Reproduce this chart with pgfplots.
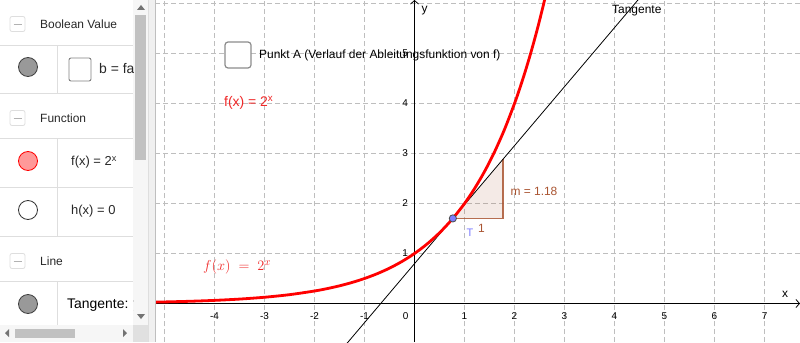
\documentclass[border=0pt]{standalone}
\usepackage{fontspec}
\setmainfont{Liberation Sans}
\usepackage{pgfplots}
\pgfplotsset{compat=1.18}
\usetikzlibrary{arrows.meta}
\definecolor{ggred}{RGB}{255,0,0}
\definecolor{ggtext}{RGB}{240,40,40}
\definecolor{ggbrown}{RGB}{170,85,50}
\definecolor{gggrid}{RGB}{190,190,190}
\definecolor{ggblue}{RGB}{125,125,255}
\definecolor{pline}{RGB}{222,222,222}
\definecolor{thumb}{RGB}{193,193,193}
\definecolor{track}{RGB}{246,246,246}
\definecolor{ptext}{RGB}{40,40,40}

\pgfplotstableread{
x y
-5.19 0.0274
-5.0 0.03125
-4.5 0.0442
-4.0 0.0625
-3.5 0.0884
-3.0 0.125
-2.5 0.1768
-2.0 0.25
-1.75 0.2973
-1.5 0.3536
-1.25 0.4204
-1.0 0.5
-0.75 0.5946
-0.5 0.7071
-0.25 0.8409
0.0 1.0
0.25 1.1892
0.5 1.4142
0.75 1.6818
1.0 2.0
1.2 2.2974
1.4 2.6390
1.6 3.0314
1.8 3.4822
2.0 4.0
2.1 4.2871
2.2 4.5948
2.3 4.9246
2.4 5.2780
2.5 5.6569
2.6 6.0629
2.65 6.2757
}\fdata

\begin{document}
\begin{tikzpicture}[x=1bp,y=1bp]
\useasboundingbox (0,0) rectangle (800,342);
\clip (0,0) rectangle (800,342);
\fill[white] (0,0) rectangle (800,342);

\begin{axis}[at={(155bp,0bp)}, anchor=south west, width=645bp, height=342bp, scale only axis,
  xmin=-5.19, xmax=7.71, ymin=-0.77, ymax=6.07,
  axis lines=middle,
  axis line style={black, line width=0.8bp},
  every inner x axis line/.append style={-{Straight Barb[length=3.5bp,width=8bp]}},
  every inner y axis line/.append style={-{Straight Barb[length=3.5bp,width=8bp]}},
  grid=major, major grid style={gggrid, dash pattern=on 5bp off 3bp, line width=0.7bp},
  xtick={-5,...,7}, xticklabels={,-4,-3,-2,-1,,1,2,3,4,5,6,7},
  ytick={1,...,6}, yticklabels={1,2,3,4,5,},
  major tick length=0pt,
  xticklabel style={font=\fontsize{10}{12}\selectfont, anchor=north, yshift=-6bp},
  yticklabel style={font=\fontsize{10}{12}\selectfont, anchor=east, xshift=-3bp},
  clip=true,
]
\addplot[ggbrown!100, fill=ggbrown, fill opacity=0.12, draw opacity=0.85, line width=1.8bp]
  coordinates {(0.767,1.702) (1.767,1.702) (1.767,2.882)};
\addplot[black, line width=0.8bp] coordinates {(-1.5,-0.973) (4.6,6.225)};
\addplot[ggred, line width=2.8bp, smooth] table[x=x,y=y] {\fdata};
\addplot[only marks, mark=*, mark size=3.6bp, mark options={fill=ggblue, draw=black!70, line width=0.8bp}]
  coordinates {(0.767,1.702)};
\node[font=\fontsize{10}{12}\selectfont, anchor=north east] at (axis cs:-0.05,-0.12) {0};
\node[font=\fontsize{12}{14}\selectfont, anchor=south] at (axis cs:7.41,0.04) {x};
\node[font=\fontsize{12}{14}\selectfont, anchor=north west] at (axis cs:0.07,6.02) {y};
\node[font=\fontsize{12}{14}\selectfont, text=ggbrown, anchor=west] at (axis cs:1.85,2.25) {m = 1.18};
\node[font=\fontsize{12}{14}\selectfont, text=ggbrown, anchor=west] at (axis cs:1.2,1.5) {1};
\node[font=\fontsize{11}{13}\selectfont, text=ggblue, anchor=west] at (axis cs:0.97,1.41) {T};
\end{axis}

% texts inside graphics view (pixel coords, y down)
\begin{scope}[shift={(0,342)}, yscale=-1]
\node[font=\fontsize{12}{14}\selectfont, anchor=west, inner sep=0] at (612,11) {Tangente};
\draw[rounded corners=3bp, line width=1.2bp, black!45, fill=white] (225,42) rectangle (251,68);
\node[font=\fontsize{12}{14}\selectfont, anchor=west, inner sep=0] at (259,55) {Punkt A (Verlauf der Ableitungsfunktion von f)};
\node[font=\fontsize{14}{16}\selectfont, text=ggtext, anchor=west, inner sep=0] at (224,103) {f(x) = 2\textsuperscript{x}};
\node[font=\fontsize{15}{18}\selectfont, text=ggtext, anchor=west, inner sep=0] at (203,267) {$f(x)\;=\;2^x$};

% ---- left panel ----
\fill[white] (0,0) rectangle (155,342);
\fill[track] (133,0) rectangle (148,325);
\fill[thumb] (135,15) rectangle (146,160);
\fill[black!55] (137,10) -- (145,10) -- (141,5) -- cycle;
\fill[black!55] (137,314) -- (145,314) -- (141,319) -- cycle;
\fill[black!6] (148,0) rectangle (155,342);
\draw[pline, line width=0.8bp] (148,0) -- (148,342);
\draw[black!25, line width=0.8bp] (155,0) -- (155,342);
\fill[track] (0,325) rectangle (133,342);
\fill[thumb] (15,329) rectangle (75,338);
\fill[black!55] (9,329) -- (9,337) -- (5,333) -- cycle;
\fill[black!55] (123,329) -- (123,337) -- (127,333) -- cycle;
\fill[black!12] (133,325) rectangle (148,342);
% separators
\foreach \yy in {45,93,138,187,236,281} \draw[pline, line width=0.8bp] (0,\yy) -- (133,\yy);
\draw[pline, line width=0.8bp] (57,45) -- (57,93);
\draw[pline, line width=0.8bp] (57,138) -- (57,236);
\draw[pline, line width=0.8bp] (57,281) -- (57,325);
% header icons
\foreach \yy in {24,118,261} {
  \draw[pline, line width=0.8bp, rounded corners=2bp] (10,\yy-7.5) rectangle (25,\yy+7.5);
  \draw[black!30, line width=0.9bp] (13.5,\yy) -- (21.5,\yy);
}
\node[font=\fontsize{12}{14}\selectfont, text=ptext, anchor=west, inner sep=0] at (40,24) {Boolean Value};
\node[font=\fontsize{12}{14}\selectfont, text=ptext, anchor=west, inner sep=0] at (40,118) {Function};
\node[font=\fontsize{12}{14}\selectfont, text=ptext, anchor=west, inner sep=0] at (40,261) {Line};
% circles
\draw[fill=black!40, draw=black!75, line width=0.8bp] (28,67) circle (9.5);
\draw[fill={rgb,255:red,255;green,153;blue,153}, draw=red, line width=0.8bp] (28,161) circle (9.5);
\draw[fill=white, draw=black!80, line width=0.8bp] (28,210) circle (9.5);
\draw[fill=black!40, draw=black!75, line width=0.8bp] (28,304) circle (9.5);
% row contents
\draw[rounded corners=2bp, line width=0.9bp, black!50, fill=white] (69,58) rectangle (91,81);
\begin{scope}
\clip (57,45) rectangle (133,325);
\node[font=\fontsize{14}{16}\selectfont, text=ptext, anchor=west, inner sep=0] at (99,69) {b = false};
\node[font=\fontsize{13}{15}\selectfont, text=ptext, anchor=west, inner sep=0] at (71,162) {f(x) = 2\textsuperscript{x}};
\node[font=\fontsize{13}{15}\selectfont, text=ptext, anchor=west, inner sep=0] at (71,211) {h(x) = 0};
\node[font=\fontsize{14}{17}\selectfont, text=black, anchor=west, inner sep=0] at (67,305) {Tangente: y = 1.18x + 0.8};
\end{scope}
\end{scope}
\end{tikzpicture}
\end{document}
